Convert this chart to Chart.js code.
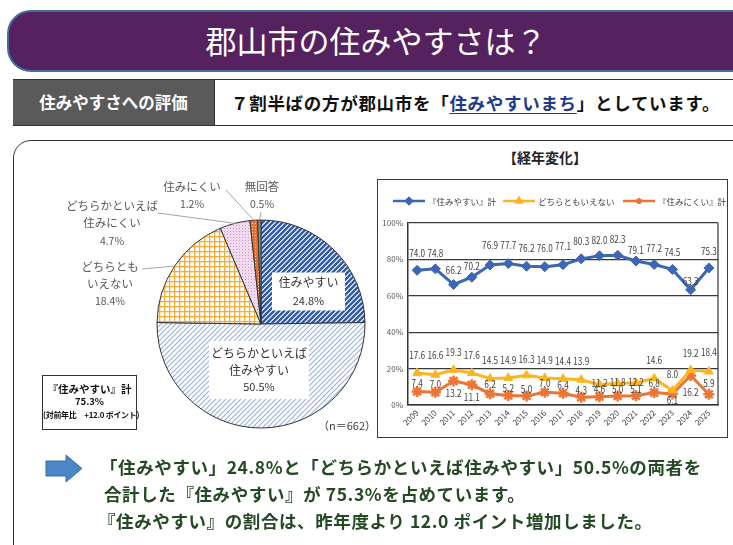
<!DOCTYPE html>
<html lang="ja"><head><meta charset="utf-8">
<script src="https://cdn.jsdelivr.net/npm/chart.js@4.4.1/dist/chart.umd.min.js"></script>
<style>
*{box-sizing:border-box}
html,body{margin:0;padding:0;background:#fff;}
body{width:733px;height:545px;overflow:hidden;position:relative;font-family:"Noto Sans CJK JP","Noto Sans",sans-serif;}
.a{position:absolute;white-space:nowrap}
#banner{left:7px;top:10px;width:800px;height:62px;background:#56215f;border:2px solid #41709f;border-radius:24px}
#title{left:0;top:10px;width:752px;height:62px;line-height:60px;text-align:center;color:#fff;font-size:31px;}
#row{left:13px;top:79px;width:740px;height:47px;border-top:1.5px solid #333;border-bottom:1.5px solid #333}
#cell{left:13px;top:80px;width:202px;height:45px;background:#5a5a5a;border-right:1.5px solid #333;color:#fff;font-weight:bold;font-size:16.5px;line-height:45px;text-align:center}
#rowtext{left:231px;top:80px;line-height:45px;font-size:17.5px;font-weight:bold;color:#111;letter-spacing:0.7px}
#rowtext span{color:#1f3a8a;text-decoration:underline;text-underline-offset:3px}
#box{left:13px;top:140px;width:760px;height:440px;border:1.5px solid #333;border-radius:18px}
#frame{left:377px;top:179px;width:351px;height:259px;border:1.5px solid #3a3a3a}
#ctitle{left:470px;top:145px;width:150px;text-align:center;font-weight:bold;font-size:14px;line-height:24px;color:#222}
#sum{left:42px;top:375px;width:95px;height:55px;border:1.5px solid #333;text-align:center;font-weight:bold;color:#111;background:#fff}
#sum div{line-height:13px}
#n{left:318px;top:417px;font-size:11px;color:#404040}
.t{font-weight:bold;color:#234a22;font-size:17.5px;line-height:27px;letter-spacing:0.6px}
</style></head>
<body>
<div class="a" id="banner"></div>
<div class="a" id="title">郡山市の住みやすさは？</div>
<div class="a" id="row"></div>
<div class="a" id="cell">住みやすさへの評価</div>
<div class="a" id="rowtext">７割半ばの方が郡山市を「<span>住みやすいまち</span>」としています。</div>
<div class="a" id="box"></div>
<div class="a" id="ctitle">【経年変化】</div>
<div class="a" id="frame"></div>
<canvas class="a" id="pie" width="358" height="298" style="left:14px;top:141px"></canvas>
<canvas class="a" id="line" width="348" height="256" style="left:378px;top:180px"></canvas>
<div class="a" id="sum"><div style="font-size:10.5px;margin-top:6px">『住みやすい』計</div><div style="font-size:9.5px">75.3%</div><div style="font-size:8px;letter-spacing:-0.3px">(対前年比　+12.0 ポイント)</div></div>
<div class="a" id="n">（n＝662）</div>
<svg class="a" style="left:45px;top:454px" width="40" height="30"><polygon points="1,7 21,7 21,1 37,14.5 21,28 21,22 1,22" fill="#4a86c8" stroke="#3a6fa8" stroke-width="1"/></svg>
<div class="a t" style="left:100px;top:453px">「住みやすい」24.8%と「どちらかといえば住みやすい」50.5%の両者を</div>
<div class="a t" style="left:104px;top:480px">合計した『住みやすい』が 75.3%を占めています。</div>
<div class="a t" style="left:98px;top:507px">『住みやすい』の割合は、昨年度より 12.0 ポイント増加しました。</div>
<script>
// ---------- data ----------
const pieCategories = ['住みやすい','どちらかといえば住みやすい','どちらともいえない','どちらかといえば住みにくい','住みにくい','無回答'];
const pieValues = [24.8, 50.5, 18.4, 4.7, 1.2, 0.5];
const years = ['2009','2010','2011','2012','2013','2014','2015','2016','2017','2018','2019','2020','2021','2022','2023','2024','2025'];
const easyTotal = [74.0,74.8,66.2,70.2,76.9,77.7,76.2,76.0,77.1,80.3,82.0,82.3,79.1,77.2,74.5,63.3,75.3];
const neutral   = [17.6,16.6,19.3,17.6,14.5,14.9,16.3,14.9,14.4,13.9,11.2,11.8,12.2,14.6,8.0,19.2,18.4];
const hardTotal = [7.4,7.0,13.2,11.1,6.2,5.2,5.0,7.0,6.4,4.3,4.6,5.0,5.1,6.8,6.1,16.2,5.9];
const seriesNames = ['『住みやすい』計','どちらともいえない','『住みにくい』計'];
const yTicks = [0,20,40,60,80,100];

const FONT = '"Noto Sans CJK JP","Noto Sans",sans-serif';

// ---------- patterns ----------
const pieCanvas = document.getElementById('pie');
const pctx = pieCanvas.getContext('2d');
function makePattern(s, draw){
  const c=document.createElement('canvas'); c.width=s; c.height=s;
  const g=c.getContext('2d'); draw(g,s);
  return pctx.createPattern(c,'repeat');
}
function stripes(bg, fg, s, w){
  return makePattern(s,(g)=>{
    g.fillStyle=bg; g.fillRect(0,0,s,s);
    g.strokeStyle=fg; g.lineWidth=w; g.beginPath();
    g.moveTo(0,s); g.lineTo(s,0);
    g.moveTo(-1,1); g.lineTo(1,-1);
    g.moveTo(s-1,s+1); g.lineTo(s+1,s-1);
    g.stroke();
  });
}
const patterns = [
  stripes('#ffffff','#2f5aa6',5,2.4),
  stripes('#ffffff','#9db4df',5,1.2),
  makePattern(5,(g,s)=>{g.fillStyle='#fff';g.fillRect(0,0,s,s);g.fillStyle='#f4ac3b';g.fillRect(0,0,s,1.3);g.fillRect(0,0,1.3,s);}),
  makePattern(3,(g,s)=>{g.fillStyle='#f1d9ee';g.fillRect(0,0,s,s);g.fillStyle='#cf9ccb';g.fillRect(0,0,1,1);}),
  makePattern(3,(g,s)=>{g.fillStyle='#e8702e';g.fillRect(0,0,s,s);g.fillStyle='#fbd3b8';g.fillRect(1,1,1,1);}),
  '#8c8c8c'
];

// ---------- pie labels (layout relative to pie centre) ----------
const pieLabelLayout = [
  {type:'box', dx:47.5, dy:-32.5, w:73, h:38, breaks:[], lineDy:[-9,9], size:12},
  {type:'box', dx:-2, dy:46, w:100, h:58, breaks:[8], lineDy:[-17,0,17], size:12},
  {type:'out', dx:-151, breaks:[5], lineDy:[-57,-40,-23], from:[-119,-55], size:11.5},
  {type:'out', dx:-149, breaks:[8], lineDy:[-118,-101,-83], from:[-103,-111], size:11.5},
  {type:'out', dx:-69, breaks:[], lineDy:[-137,-120], from:[-35,-134], size:11.5},
  {type:'out', dx:1, breaks:[], lineDy:[-137,-120], from:[0,-112], size:11.5}
];
function splitText(t, br){ const out=[]; let p=0; br.forEach(b=>{out.push(t.slice(p,b)); p=b;}); out.push(t.slice(p)); return out; }

const pieLabelPlugin = {
  id:'pieLabels',
  afterDatasetsDraw(chart){
    const ctx=chart.ctx, meta=chart.getDatasetMeta(0);
    const cx=meta.data[0].x, cy=meta.data[0].y;
    ctx.save();
    ctx.textAlign='center'; ctx.textBaseline='middle';
    meta.data.forEach((arc,i)=>{
      const L=pieLabelLayout[i];
      const lines=splitText(chart.data.labels[i], L.breaks);
      lines.push(chart.data.datasets[0].data[i].toFixed(1)+'%');
      if(L.type==='box'){
        const bx=cx+L.dx, by=cy+L.dy;
        ctx.fillStyle='#fff'; ctx.fillRect(bx-L.w/2, by-L.h/2, L.w, L.h);
        ctx.fillStyle='#333';
        lines.forEach((t,k)=>{
          ctx.font=(k===lines.length-1? (L.size-1):L.size)+'px '+FONT;
          ctx.fillText(t, bx, by+L.lineDy[k]);
        });
      } else {
        const mid=(arc.startAngle+arc.endAngle)/2, R=arc.outerRadius;
        ctx.strokeStyle='#a6a6a6'; ctx.lineWidth=1;
        ctx.beginPath(); ctx.moveTo(cx+L.from[0], cy+L.from[1]);
        ctx.lineTo(cx+R*Math.cos(mid), cy+R*Math.sin(mid)); ctx.stroke();
        ctx.fillStyle='#595959';
        lines.forEach((t,k)=>{
          ctx.font=(k===lines.length-1? (L.size-1):L.size)+'px '+FONT;
          ctx.fillText(t, cx+L.dx, cy+L.lineDy[k]);
        });
      }
    });
    ctx.restore();
  }
};

new Chart(pctx, {
  type:'pie',
  data:{labels:pieCategories, datasets:[{data:pieValues, backgroundColor:patterns, borderColor:'#333', borderWidth:1, radius:104}]},
  options:{responsive:false, animation:false, devicePixelRatio:1,
    layout:{padding:{left:143,right:7,top:79,bottom:11}},
    plugins:{legend:{display:false}, tooltip:{enabled:false}}},
  plugins:[pieLabelPlugin]
});

// ---------- line chart ----------
const colors = ['#3b67b4','#fcb522','#ec7434'];
const pointStyles = ['rectRot','triangle','star'];
const labelOffsets = [
  [-17,-16,-14,-11,-20,-18,-18,-18,-18,-18,-16,-16,-11,-16,-17,-9,-17],
  [-18,-20,-18,-18,-18,-18,-16,-18,-18,-18,-1,-1,-1,-18,-16,-17,-19],
  [-8,-8,12,12,-10,-7,-7,-9,-8,-7,-7,-7,-7,-9,6,17,-11]
];
const lineExtras = {
  id:'lineExtras',
  afterDatasetsDraw(chart){
    const ctx=chart.ctx, a=chart.chartArea;
    ctx.save();
    ctx.strokeStyle='#333'; ctx.lineWidth=1.2;
    ctx.beginPath(); ctx.moveTo(a.right, a.top); ctx.lineTo(a.right, a.bottom); ctx.stroke();
    ctx.font='10px '+FONT; ctx.fillStyle='#404040'; ctx.textAlign='center'; ctx.textBaseline='middle';
    chart.data.datasets.forEach((ds,d)=>{
      chart.getDatasetMeta(d).data.forEach((pt,i)=>{
        ctx.save();
        ctx.translate(pt.x, pt.y+labelOffsets[d][i]);
        ctx.scale(0.82,1);
        ctx.fillText(ds.data[i].toFixed(1), 0, 0);
        ctx.restore();
      });
    });
    const items=[[15,50],[125,160],[245,280]];
    ctx.font='8.5px '+FONT; ctx.textAlign='left'; ctx.fillStyle='#404040';
    chart.data.datasets.forEach((ds,d)=>{
      const [x0,tx]=items[d], y=21;
      ctx.strokeStyle=ds.borderColor; ctx.lineWidth=2.5;
      ctx.beginPath(); ctx.moveTo(x0,y); ctx.lineTo(x0+32,y); ctx.stroke();
      ctx.fillStyle=ds.borderColor;
      Chart.helpers.drawPoint(ctx,{pointStyle:ds.pointStyle,radius:3,borderWidth:1.5,rotation:0},x0+16,y);
      ctx.fillStyle='#404040';
      ctx.fillText(ds.label, tx, y+0.5);
    });
    ctx.restore();
  }
};
new Chart(document.getElementById('line').getContext('2d'), {
  type:'line',
  data:{labels:years, datasets:[easyTotal,neutral,hardTotal].map((v,d)=>({
    label:seriesNames[d], data:v, borderColor:colors[d], backgroundColor:colors[d],
    borderWidth:3, pointStyle:pointStyles[d], pointRadius:d===2?5.5:5, pointBorderWidth:d===2?2.5:1,
    pointBackgroundColor:colors[d], pointBorderColor:colors[d], tension:0
  }))},
  options:{responsive:false, animation:false, devicePixelRatio:1,
    layout:{padding:{top:43,right:8,left:0,bottom:0}},
    plugins:{legend:{display:false}, tooltip:{enabled:false}},
    scales:{
      x:{offset:true, grid:{display:false, drawTicks:false},
         border:{display:true,color:'#333',width:1.5},
         ticks:{maxRotation:45,minRotation:45,padding:3,color:'#404040',font:{size:8,family:FONT}},
         afterFit(s){ s.height=31; }},
      y:{min:0,max:100,
         afterBuildTicks(s){ s.ticks=yTicks.map(v=>({value:v})); },
         grid:{color:'#3a3a3a',lineWidth:1.2,drawTicks:false},
         border:{display:true,color:'#333',width:1.5},
         ticks:{padding:5,color:'#595959',font:{size:8,family:FONT},callback:v=>v+'%'},
         afterFit(s){ s.width=30; }}
    }},
  plugins:[lineExtras]
});
</script>
</body></html>
